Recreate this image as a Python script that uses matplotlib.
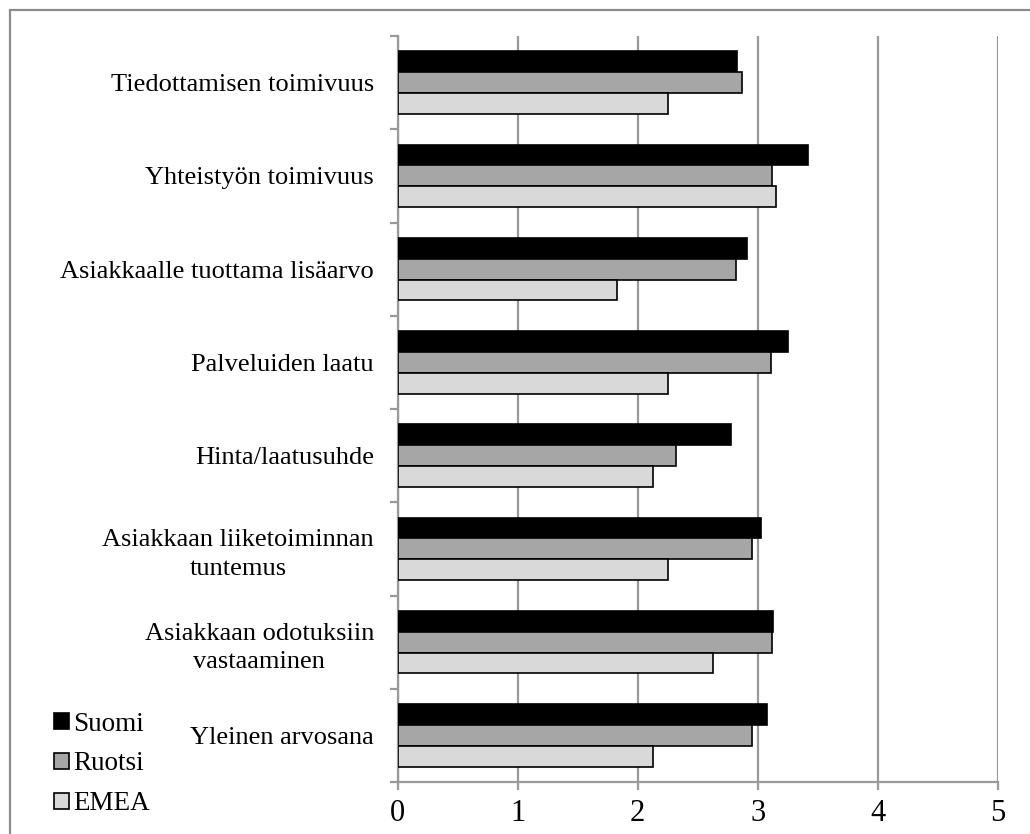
import matplotlib
matplotlib.use("Agg")
import matplotlib.pyplot as plt
from matplotlib.patches import Patch, Rectangle
import numpy as np

categories = [
    "Tiedottamisen toimivuus",
    "Yhteistyön toimivuus",
    "Asiakkaalle tuottama lisäarvo",
    "Palveluiden laatu",
    "Hinta/laatusuhde",
    "Asiakkaan liiketoiminnan\ntuntemus",
    "Asiakkaan odotuksiin\nvastaaminen",
    "Yleinen arvosana",
]
suomi = [2.83, 3.42, 2.91, 3.25, 2.78, 3.03, 3.13, 3.08]
ruotsi = [2.87, 3.12, 2.82, 3.11, 2.32, 2.95, 3.12, 2.95]
emea = [2.25, 3.15, 1.83, 2.25, 2.13, 2.25, 2.63, 2.13]
series_names = ["Suomi", "Ruotsi", "EMEA"]
x_ticks = [0, 1, 2, 3, 4, 5]

plt.rcParams['font.family'] = ['Liberation Serif', 'DejaVu Serif']

W, H = 1030, 834
fig = plt.figure(figsize=(W / 100, H / 100), dpi=100)
ax = fig.add_axes([397.5 / W, 1 - 782 / H, (998 - 397.5) / W, (782 - 36) / H])

colors = ["#000000", "#a6a6a6", "#d9d9d9"]
bh = 0.224
y = np.arange(len(categories))
for i, (vals, c) in enumerate(zip([suomi, ruotsi, emea], colors)):
    ax.barh(y + (i - 1) * bh, vals, height=bh, color=c, edgecolor="black",
            linewidth=1.2, zorder=3)

ax.set_xlim(0, 5)
ax.set_ylim(len(categories) - 0.5, -0.5)
ax.set_xticks(x_ticks)
ax.set_xticklabels([str(t) for t in x_ticks])
ax.xaxis.grid(True, color="#999999", linewidth=1.6, zorder=0)
ax.set_axisbelow(True)

ax.set_yticks(np.arange(-0.5, len(categories), 1.0))
ax.set_yticklabels([])
ax.set_yticks(y, minor=True)
ax.set_yticklabels(categories, minor=True)
for lab in ax.get_yticklabels(minor=True):
    lab.set_multialignment("center")
    lab.set_linespacing(1.4)
ax.tick_params(axis="y", which="major", direction="out", length=6, width=1.6, color="#999999")
ax.tick_params(axis="y", which="minor", length=0, pad=17, labelsize=19)
ax.tick_params(axis="x", direction="out", length=6, width=1.6, color="#999999",
               labelsize=22, pad=6)

for s in ["top", "right"]:
    ax.spines[s].set_visible(False)
for s in ["left", "bottom"]:
    ax.spines[s].set_color("#999999")
    ax.spines[s].set_linewidth(1.6)

handles = [Patch(facecolor=c, edgecolor="black", linewidth=1.2) for c in colors]
fig.legend(handles, series_names, loc="center left",
           bbox_to_anchor=(54 / W, 1 - 764 / H), frameon=False,
           fontsize=19.5, handlelength=0.55, handleheight=0.55,
           handletextpad=0.15, labelspacing=0.55, borderpad=0, borderaxespad=0)

fig.add_artist(Rectangle((10 / W, -0.1), 1.2, 1.1 - 10 / H, transform=fig.transFigure,
                         fill=False, edgecolor="#8c8c8c", linewidth=1.6))

fig.savefig("out.png", dpi=100)
